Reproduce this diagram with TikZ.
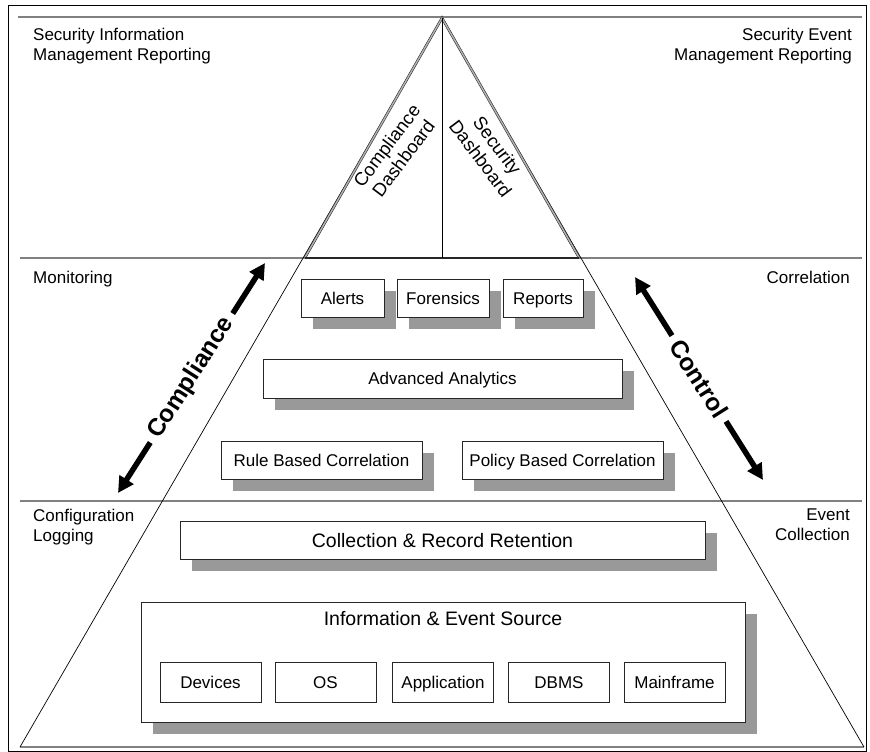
\documentclass[tikz,border=0pt]{standalone}
\usepackage{fontspec}
\setmainfont{Liberation Sans}
\usetikzlibrary{arrows.meta,shadows}
\begin{document}
\begin{tikzpicture}[x=1pt,y=-1pt,
  every node/.style={font=\fontsize{17}{20}\selectfont},
  sepline/.style={draw=black!50, line width=1.4pt},
  edgeline/.style={draw=black, line width=0.7pt},
  box/.style={draw=black!85, line width=1pt, fill=white, inner sep=0pt, anchor=center, text height=12.2pt, text depth=0pt},
  shbox/.style={box, drop shadow={shadow xshift=12pt, shadow yshift=-12pt, fill=black!40, opacity=1}},
  smallbox/.style={box, minimum width=101pt, minimum height=40pt},
  lbl/.style={inner sep=0pt},
  bigtext/.style={font=\fontsize{19.5}{23}\selectfont, text height=14pt, text depth=0pt},
  tritext/.style={font=\fontsize{18.5}{21}\selectfont, align=center, inner sep=0pt},
  boldtext/.style={font=\bfseries\fontsize{24.5}{28}\selectfont, fill=white, inner xsep=7pt, inner ysep=2pt},
  bigarrow/.style={line width=5.5pt, {Triangle[length=16pt,width=16pt]}-{Triangle[length=16pt,width=16pt]}},
]
\useasboundingbox (0,0) rectangle (870,752);
% frame
\draw[line width=0.8pt] (8,5) rectangle (866,751);
% separators
\draw[sepline] (18,17) -- (862,17);
\draw[sepline] (20,258) -- (862,258);
\draw[sepline] (20,501) -- (862,501);
\draw[sepline] (20,747) -- (864,747);
% coordinates of pyramid
\coordinate (apex) at (442,18);
\coordinate (bl) at (305,257.5);
\coordinate (br) at (579,257.5);
\coordinate (mb) at (442,257.5);
\coordinate (cl) at (20,747);
\coordinate (cr) at (864,747);
% outer pyramid edges
\draw[edgeline] (apex) -- (cl);
\draw[edgeline] (apex) -- (cr);
% top triangle
\draw[draw=black!80, line width=0.6pt, double=black!30, double distance=1.4pt] (bl) -- (apex) -- (br);
\draw[draw=black!85, line width=2pt] (bl) -- (br);
\draw[draw=black, line width=0.9pt] (apex) -- (mb);
\node[tritext, rotate=53] (cdash) at (395,152) {Compliance\\Dashboard};
\node[tritext, rotate=-53] (sdash) at (489,152) {Security\\Dashboard};
% corner labels
\node[lbl, anchor=north west, align=left] (sim) at (33,28) {Security Information\\Management Reporting};
\node[lbl, anchor=north east, align=right] (sem) at (852,28) {Security Event\\Management Reporting};
\node[lbl, anchor=north west] (mon) at (33,271) {Monitoring};
\node[lbl, anchor=north east] (cor) at (850,271) {Correlation};
\node[lbl, anchor=north west, align=left] (cfg) at (33,509) {Configuration\\Logging};
\node[lbl, anchor=north east, align=right] (evc) at (850,509) {Event\\Collection};
% middle boxes
\node[shbox, minimum width=83pt, minimum height=38pt] (alerts) at (342.5,298) {Alerts};
\node[shbox, minimum width=92pt, minimum height=38pt] (foren) at (443,298) {Forensics};
\node[shbox, minimum width=80pt, minimum height=38pt] (reports) at (543,298) {Reports};
\node[shbox, minimum width=359pt, minimum height=39pt] (adv) at (442.5,378.5) {Advanced Analytics};
\node[shbox, minimum width=201pt, minimum height=38pt] (rule) at (321.5,460) {Rule Based Correlation};
\node[shbox, minimum width=201pt, minimum height=38pt] (policy) at (562.5,460) {Policy Based Correlation};
% bottom boxes
\node[shbox, bigtext, minimum width=525pt, minimum height=38pt] (crr) at (442.5,540) {Collection \& Record Retention};
\node[shbox, minimum width=604pt, minimum height=120pt] (ies) at (443,662) {};
\node[bigtext, inner sep=0pt] (iestitle) at (443,618) {Information \& Event Source};
\node[smallbox] (dev) at (210.5,682) {Devices};
\node[smallbox] (os) at (325.5,682) {OS};
\node[smallbox] (app) at (443,682) {Application};
\node[smallbox] (dbms) at (559,682) {DBMS};
\node[smallbox] (mainf) at (674.5,682) {Mainframe};
% compliance / control arrows
\coordinate (ca1) at (118,493);
\coordinate (ca2) at (265,263);
\coordinate (ct1) at (635,277);
\coordinate (ct2) at (763,480);
\draw[bigarrow] (ca1) -- (ca2) node[midway, sloped, boldtext] (comp) {Compliance};
\draw[bigarrow] (ct1) -- (ct2) node[midway, sloped, boldtext] (ctrl) {Control};
\end{tikzpicture}
\end{document}
